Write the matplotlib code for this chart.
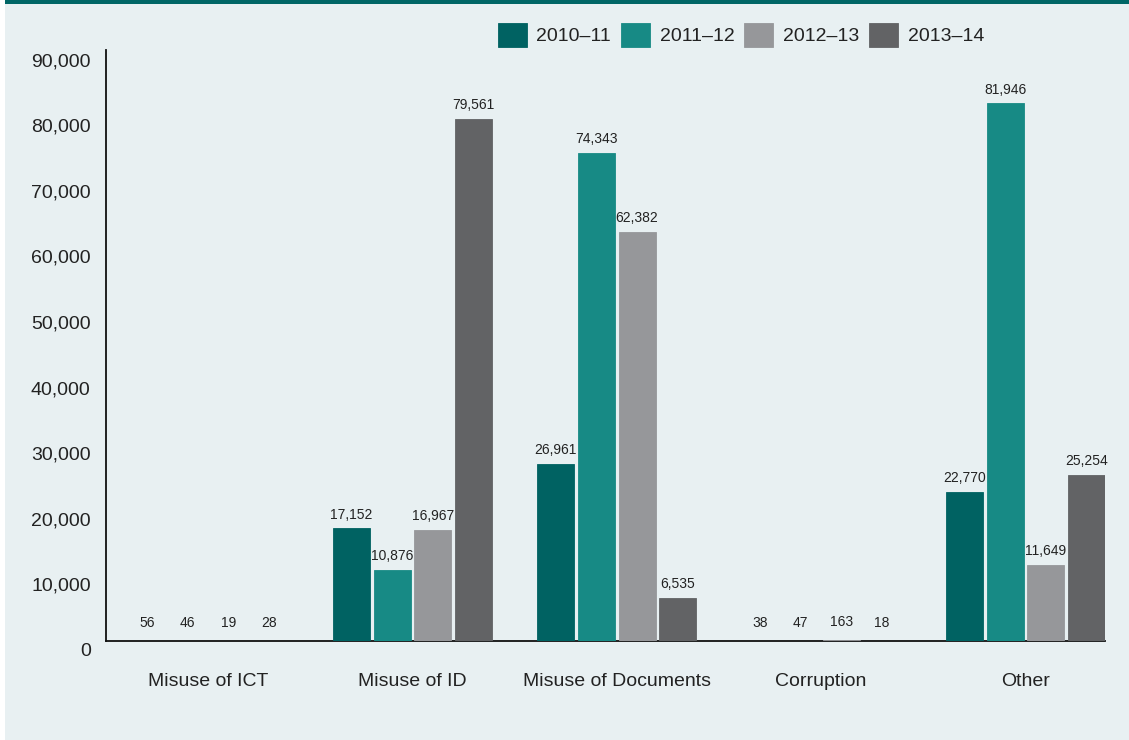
import matplotlib
matplotlib.use("Agg")
import matplotlib.pyplot as plt
import matplotlib.transforms as mtransforms
from matplotlib.patches import Rectangle
import numpy as np

plt.rcParams['font.family'] = ['Liberation Sans', 'DejaVu Sans']

categories = ["Misuse of ICT", "Misuse of ID", "Misuse of Documents", "Corruption", "Other"]
series_names = ["2010\u201311", "2011\u201312", "2012\u201313", "2013\u201314"]
v_2010_11 = [56, 17152, 26961, 38, 22770]
v_2011_12 = [46, 10876, 74343, 47, 81946]
v_2012_13 = [19, 16967, 62382, 163, 11649]
v_2013_14 = [28, 79561, 6535, 18, 25254]
series_values = [v_2010_11, v_2011_12, v_2012_13, v_2013_14]
yticks = [0, 10000, 20000, 30000, 40000, 50000, 60000, 70000, 80000, 90000]

colors = ["#006262", "#178A85", "#96979A", "#626365"]
bg = "#E8F0F2"
txt = "#222222"

W, H = 1129, 740
fig = plt.figure(figsize=(W / 100, H / 100), dpi=100)
fig.patch.set_facecolor("white")
fig.add_artist(Rectangle((5 / W, 0), 1 - 5 / W, 1, transform=fig.transFigure,
                         facecolor=bg, edgecolor="none", zorder=0))
fig.add_artist(Rectangle((5 / W, 1 - 4 / H), 1 - 5 / W, 4 / H, transform=fig.transFigure,
                         facecolor="#006666", edgecolor="none", zorder=1))

ax = fig.add_axes([106 / W, (H - 641) / H, (1105 - 106) / W, (641 - 50) / H])
ax.set_facecolor("none")

x = np.arange(len(categories))
width = 0.181
pitch = 0.1985
for i, (name, vals, c) in enumerate(zip(series_names, series_values, colors)):
    pos = x + (i - 1.5) * pitch
    bars = ax.bar(pos, vals, width=width, color=c, label=name, zorder=4,
                  edgecolor=c, linewidth=0.6)
    for b, v in zip(bars, vals):
        off = 8 if v < 1000 else 5
        ax.annotate(f"{v:,}", (b.get_x() + b.get_width() / 2, v),
                    xytext=(0, off), textcoords="offset points",
                    ha="center", va="bottom", fontsize=10, color=txt)

ax.set_xlim(-0.5, 4.39)
ax.set_ylim(0, 90100)
ax.set_yticks(yticks)
ax.set_yticklabels([f"{t:,}" for t in yticks])
ax.set_xticks(x)
ax.set_xticklabels(categories)
ax.tick_params(axis="y", length=0, pad=11, labelsize=14, labelcolor=txt)
ax.tick_params(axis="x", length=0, pad=23, labelsize=14, labelcolor=txt)
shift = mtransforms.ScaledTranslation(0, -9 / 100, fig.dpi_scale_trans)
for lab in ax.get_yticklabels():
    lab.set_transform(lab.get_transform() + shift)

for s in ["top", "right"]:
    ax.spines[s].set_visible(False)
for s in ["left", "bottom"]:
    ax.spines[s].set_color("#111111")
    ax.spines[s].set_linewidth(1.3)
    ax.spines[s].set_zorder(3)

fig.legend(loc="center", bbox_to_anchor=(741 / W, 1 - 35 / H), ncol=4, frameon=False,
           fontsize=14, handlelength=1.5, handleheight=1.5, handletextpad=0.5,
           columnspacing=0.5, labelcolor=txt)

fig.savefig("out.png", dpi=100, facecolor=fig.get_facecolor())
